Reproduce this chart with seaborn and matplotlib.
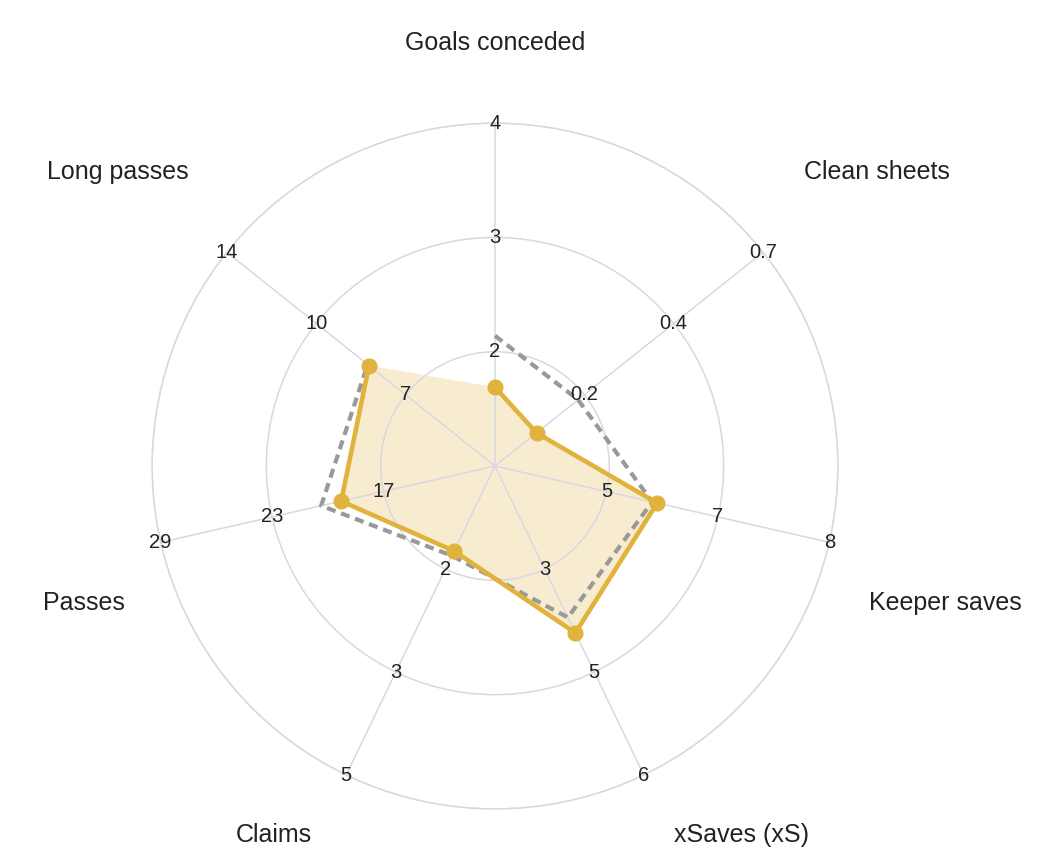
import numpy as np
import matplotlib
matplotlib.use("Agg")
import matplotlib.pyplot as plt
import seaborn as sns

# ---- data ----
categories = ["Goals conceded", "Clean sheets", "Keeper saves", "xSaves (xS)",
              "Claims", "Passes", "Long passes"]
# values expressed as fraction of each axis' range (0 = centre, 1 = outer ring)
player_values = [0.23, 0.155, 0.485, 0.54, 0.275, 0.46, 0.47]
average_values = [0.38, 0.31, 0.47, 0.49, 0.29, 0.52, 0.475]
# per-axis tick labels on the three rings
tick_labels = [
    ["2", "3", "4"],
    ["0.2", "0.4", "0.7"],
    ["5", "7", "8"],
    ["3", "5", "6"],
    ["2", "3", "5"],
    ["17", "23", "29"],
    ["7", "10", "14"],
]
ring_levels = [1/3, 2/3, 1.0]

# ---- layout (category label placement, degrees clockwise from top / radius) ----
label_theta_deg = [0, 52.4, 106.9, 146.3, 210.9, 251.6, 307.9]
label_radius = [1.233, 1.405, 1.374, 1.293, 1.254, 1.263, 1.394]

sns.set_theme(style="white")
plt.rcParams['font.family'] = ['Liberation Sans', 'DejaVu Sans']

GOLD = "#E2B33C"
FILL = "#f8ecd0"
GRID = "#d8d8e2"
TEXT = "#222222"

fig = plt.figure(figsize=(10.57, 8.52), dpi=100)
fig.patch.set_facecolor("white")
ax = fig.add_axes([0.1438, 0.0505, 0.649, 0.805], projection="polar")
ax.set_facecolor("white")
ax.set_theta_offset(np.pi / 2)
ax.set_theta_direction(-1)
ax.set_axisbelow(False)

n = len(categories)
theta = np.linspace(0, 2 * np.pi, n, endpoint=False)

ax.set_ylim(0, 1)
ax.set_yticks(ring_levels)
ax.set_yticklabels([])
ax.set_xticks(theta)
ax.set_xticklabels([])
ax.grid(True, color=GRID, linewidth=1.1)
ax.spines["polar"].set_color(GRID)
ax.spines["polar"].set_linewidth(1.1)

th_closed = np.append(theta, theta[0])
pl = np.append(player_values, player_values[0])
av = np.append(average_values, average_values[0])

ax.fill(theta, player_values, color=FILL, zorder=0.5, linewidth=0)
sns.lineplot(x=th_closed, y=av, ax=ax, sort=False, color="#999999",
             linewidth=3, linestyle=(0, (2.2, 1.4)), zorder=3)
sns.lineplot(x=th_closed, y=pl, ax=ax, sort=False, color=GOLD,
             linewidth=3.3, zorder=4)
sns.scatterplot(x=theta, y=player_values, ax=ax, color=GOLD, s=115,
                edgecolor=GOLD, zorder=5)

for i, t in enumerate(theta):
    for lvl, lab in zip(ring_levels, tick_labels[i]):
        ax.text(t, lvl, lab, ha="center", va="center", fontsize=14.5,
                color=TEXT, zorder=6)

for name, tdeg, rr in zip(categories, label_theta_deg, label_radius):
    ax.text(np.deg2rad(tdeg), rr, name, ha="center", va="center",
            fontsize=18, color=TEXT, clip_on=False)

ax.set_xlabel("")
ax.set_ylabel("")
fig.savefig("out.png", dpi=100, facecolor="white")
